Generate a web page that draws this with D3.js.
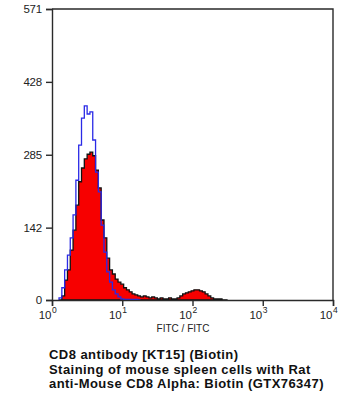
<!DOCTYPE html>
<html>
<head>
<meta charset="utf-8">
<script src="https://cdn.jsdelivr.net/npm/d3@7/dist/d3.min.js"></script>
<style>
  html, body { margin: 0; padding: 0; background: #fff; }
  svg { display: block; }
  text { font-family: "Liberation Sans", Arial, sans-serif; }
</style>
</head>
<body>
<svg id="chart" width="345" height="400"></svg>
<script>
// Histogram bins: log-spaced FITC channels (decades), first edge and width
const binStartDecade = 0.10;
const binWidthDecade = 0.04;

// Stained sample (red, filled) event counts per bin
const stainedCounts = [0, 8, 39, 59, 98, 137, 186, 232, 259, 277,
  286, 290, 283, 255, 220, 157, 122, 82, 59, 51,
  41, 35, 31, 24, 20, 16, 12, 10, 8, 6,
  8, 6, 4, 6, 4, 2, 4, 2, 2, 4,
  2, 2, 4, 8, 12, 14, 16, 18, 20, 20,
  18, 16, 12, 8, 4, 2, 2, 2, 0, 0];

// Control (blue outline) event counts per bin
const controlCounts = [4, 24, 59, 88, 122, 167, 235, 304, 357, 381,
  365, 369, 314, 251, 212, 147, 94, 55, 35, 20,
  12, 6, 2, 1, 1, 1, 1, 1, 0];

// Axis ticks
const yTicks = [0, 142, 285, 428, 571];
const xTickExponents = [0, 1, 2, 3, 4];
const xAxisTitle = "FITC / FITC";
const captionLines = [
  "CD8 antibody [KT15] (Biotin)",
  "Staining of mouse spleen cells with Rat",
  "anti-Mouse CD8 Alpha: Biotin (GTX76347)"
];

const svg = d3.select("#chart");
const x = d3.scaleLog().domain([1, 1e4]).range([52, 333]);
const y = d3.scaleLinear().domain([0, 571]).range([300, 9]);

function edge(i) { return Math.pow(10, binStartDecade + binWidthDecade * i); }

function histPoints(counts) {
  const pts = [[edge(0), 0]];
  counts.forEach((c, i) => {
    pts.push([edge(i), c]);
    pts.push([edge(i + 1), c]);
  });
  pts.push([edge(counts.length), 0]);
  return pts;
}

const line = d3.line().x(d => x(d[0])).y(d => y(d[1]));

// Filled stained histogram
svg.append("path")
  .attr("d", line(histPoints(stainedCounts)) + "Z")
  .attr("fill", "#f70000")
  .attr("stroke", "#111")
  .attr("stroke-width", 1.3)
  .attr("stroke-linejoin", "miter");

// Control histogram outline
svg.append("path")
  .attr("d", line(histPoints(controlCounts)))
  .attr("fill", "none")
  .attr("stroke", "#2a2ae6")
  .attr("stroke-width", 1.3);

// Frame (top and right)
const axisColor = "#2a2a2a";
svg.append("path")
  .attr("d", `M${x(1)},${y(571)}H${x(1e4)}V${y(0)}`)
  .attr("fill", "none")
  .attr("stroke", axisColor)
  .attr("stroke-width", 1.4);

// Y axis
const yAxis = svg.append("g").attr("transform", `translate(${x(1)},0)`)
  .call(d3.axisLeft(y).tickValues(yTicks).tickSize(6).tickPadding(4).tickFormat(d3.format("d")));
yAxis.select(".domain").attr("stroke", axisColor).attr("stroke-width", 1.4);
yAxis.selectAll(".tick line").attr("stroke", axisColor).attr("stroke-width", 1.4);
yAxis.selectAll(".tick text")
  .attr("font-family", "'Liberation Sans', Arial, sans-serif")
  .attr("font-size", 11.5).attr("fill", "#222").attr("letter-spacing", -0.2);

// X axis
const xAxis = svg.append("g").attr("transform", `translate(0,${y(0)})`)
  .call(d3.axisBottom(x).tickValues(xTickExponents.map(e => Math.pow(10, e))).tickSize(6).tickFormat(""));
xAxis.select(".domain").attr("stroke", axisColor).attr("stroke-width", 1.4);
xAxis.selectAll(".tick line").attr("stroke", axisColor).attr("stroke-width", 1.4);

const xLabels = svg.append("g");
xTickExponents.forEach(e => {
  const px = x(Math.pow(10, e));
  xLabels.append("text")
    .attr("x", px - 1).attr("y", 318.5)
    .attr("text-anchor", "end")
    .attr("font-size", 11.5).attr("fill", "#222").attr("letter-spacing", -0.3)
    .text("10");
  xLabels.append("text")
    .attr("x", px).attr("y", 313)
    .attr("font-size", 8.5).attr("fill", "#222")
    .text(String(e));
});

svg.append("text")
  .attr("x", 183).attr("y", 332)
  .attr("text-anchor", "middle")
  .attr("font-size", 10).attr("fill", "#222")
  .text(xAxisTitle);

// Caption
const caption = svg.append("g");
captionLines.forEach((t, i) => {
  caption.append("text")
    .attr("x", 49).attr("y", 359 + i * 14.5)
    .attr("font-size", 13).attr("font-weight", "bold").attr("fill", "#111")
    .attr("letter-spacing", 0.45)
    .text(t);
});
</script>
</body>
</html>
